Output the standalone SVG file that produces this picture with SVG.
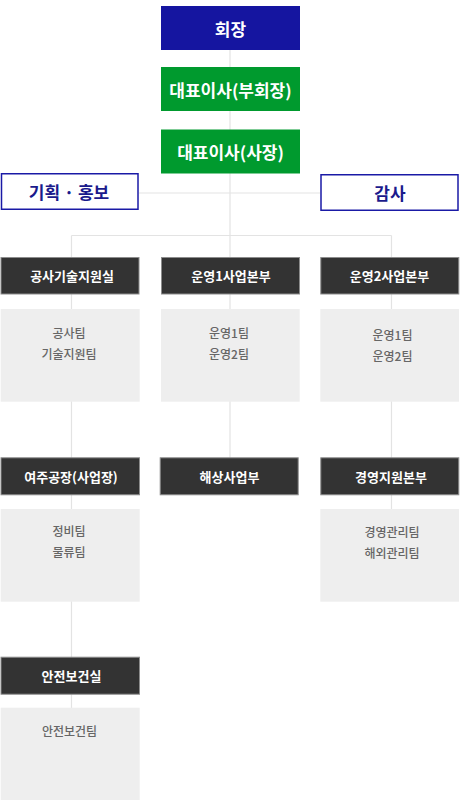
<svg xmlns="http://www.w3.org/2000/svg" width="460" height="800" viewBox="0 0 460 800">
<style>
  text { font-family: "Noto Sans CJK KR", "Noto Sans", sans-serif; text-anchor: middle; dominant-baseline: central; }
  .line { stroke: #e3e3e3; stroke-width: 1.2; fill: none; }
  .navy { fill: #1515a0; }
  .green { fill: #009a2e; }
  .top { fill: #ffffff; font-size: 17px; font-weight: 700; }
  .side { fill: #ffffff; stroke: #1a1aa6; stroke-width: 1.5; }
  .sidet { fill: #1a1a8c; font-size: 17px; font-weight: 700; }
  .dark { fill: #333333; stroke: #8c8c8c; stroke-width: 1; }
  .darkt { fill: #ffffff; font-size: 13px; font-weight: 700; }
  .team { fill: #eeeeee; }
  .teamt { fill: #666666; font-size: 12px; font-weight: 500; }
</style>
<rect width="460" height="800" fill="#ffffff"/>
<g id="connectors">
  <line class="line" x1="230" y1="50" x2="230" y2="458"/>
  <line class="line" x1="139" y1="193" x2="320" y2="193"/>
  <line class="line" x1="71.5" y1="235.5" x2="391.5" y2="235.5"/>
  <line class="line" x1="71.5" y1="235.5" x2="71.5" y2="708"/>
  <line class="line" x1="391.5" y1="235.5" x2="391.5" y2="509"/>
</g>
<g id="chairman">
  <rect class="navy" x="161" y="6" width="139" height="44"/>
  <text class="top" x="230.5" y="28">회장</text>
</g>
<g id="ceo-vice">
  <rect class="green" x="161" y="67" width="139" height="44"/>
  <text class="top" x="230.5" y="89">대표이사(부회장)</text>
</g>
<g id="ceo-president">
  <rect class="green" x="161" y="129.5" width="139" height="44"/>
  <text class="top" x="230.5" y="151.5">대표이사(사장)</text>
</g>
<g id="planning-pr">
  <rect class="side" x="1.5" y="173.75" width="136.5" height="35.5"/>
  <text class="sidet" x="69" y="191.5">기획 · 홍보</text>
</g>
<g id="audit">
  <rect class="side" x="321" y="174.75" width="137" height="35.5"/>
  <text class="sidet" x="390" y="192.5">감사</text>
</g>
<g id="tech-support">
  <rect class="dark" x="1" y="257.5" width="138" height="36.5"/>
  <text class="darkt" x="72" y="275.5">공사기술지원실</text>
  <rect class="team" x="0.7" y="309" width="139" height="92.7"/>
  <text class="teamt" x="69" y="332">공사팀</text>
  <text class="teamt" x="69" y="353.5">기술지원팀</text>
</g>
<g id="ops1">
  <rect class="dark" x="161.5" y="257.5" width="138" height="36.5"/>
  <text class="darkt" x="231" y="275.5">운영1사업본부</text>
  <rect class="team" x="161" y="309" width="138.7" height="92.7"/>
  <text class="teamt" x="229" y="332">운영1팀</text>
  <text class="teamt" x="229" y="353.5">운영2팀</text>
</g>
<g id="ops2">
  <rect class="dark" x="320.8" y="257.5" width="138" height="36.5"/>
  <text class="darkt" x="389.5" y="275.5">운영2사업본부</text>
  <rect class="team" x="320.3" y="309" width="138.7" height="92.7"/>
  <text class="teamt" x="392.5" y="334">운영1팀</text>
  <text class="teamt" x="392.5" y="355">운영2팀</text>
</g>
<g id="yeoju">
  <rect class="dark" x="1" y="457.8" width="138.5" height="37"/>
  <text class="darkt" x="71" y="476">여주공장(사업장)</text>
  <rect class="team" x="0.7" y="509" width="139" height="92.7"/>
  <text class="teamt" x="69" y="530">정비팀</text>
  <text class="teamt" x="69" y="551">물류팀</text>
</g>
<g id="marine">
  <rect class="dark" x="160.2" y="457.8" width="138" height="37"/>
  <text class="darkt" x="229.5" y="476">해상사업부</text>
</g>
<g id="mgmt-support">
  <rect class="dark" x="320.8" y="457.8" width="138" height="37"/>
  <text class="darkt" x="391" y="476">경영지원본부</text>
  <rect class="team" x="320.3" y="509" width="138.7" height="92.7"/>
  <text class="teamt" x="392" y="531">경영관리팀</text>
  <text class="teamt" x="392" y="552">해외관리팀</text>
</g>
<g id="safety">
  <rect class="dark" x="1" y="657.2" width="138.5" height="37"/>
  <text class="darkt" x="71.5" y="675.5">안전보건실</text>
  <rect class="team" x="0.7" y="707.7" width="139" height="92.3"/>
  <text class="teamt" x="69.5" y="730">안전보건팀</text>
</g>
</svg>
